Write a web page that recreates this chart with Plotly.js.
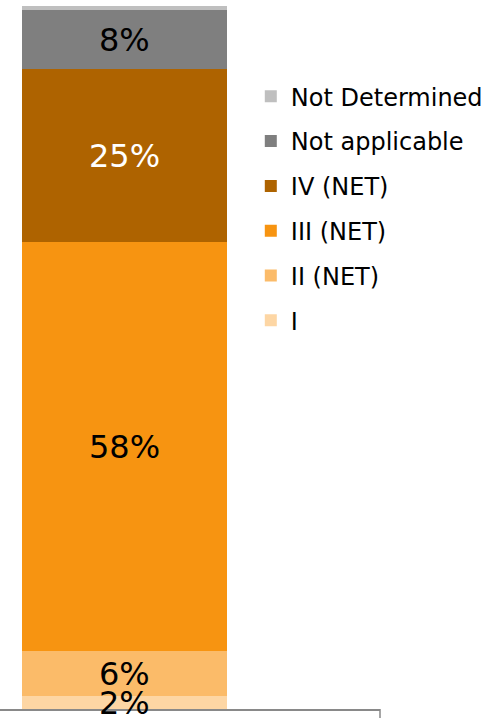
<!DOCTYPE html>
<html>
<head>
<meta charset="utf-8">
<script src="https://cdn.plot.ly/plotly-3.0.1.min.js"></script>
<style>html,body{margin:0;padding:0;background:#fff;}#chart{width:490px;height:718px;}</style>
</head>
<body>
<div id="chart"></div>
<script>
const category = ['All'];
const seriesNames = ['I', 'II (NET)', 'III (NET)', 'IV (NET)', 'Not applicable', 'Not Determined'];
const seriesValues = [1.8, 6.4, 58.2, 24.6, 8.4, 0.6];
const seriesLabels = ['2%', '6%', '58%', '25%', '8%', ''];
const seriesColors = ['#fdd6a4', '#fbbb69', '#f79411', '#ae6300', '#7f7f7f', '#bfbfbf'];
const labelColors = ['#000000', '#000000', '#000000', '#ffffff', '#000000', '#000000'];

const FONT = 'Verdana, DejaVu Sans, sans-serif';

const traces = seriesNames.map((name, i) => ({
  type: 'bar',
  name: name,
  x: [0],
  y: [seriesValues[i]],
  width: 0.6,
  marker: {color: seriesColors[i], line: {width: 0}},
  legendgroup: 'g' + i,
  legendrank: seriesNames.length - i,
  hoverinfo: 'name+y'
}));

// data labels at the middle of each stacked segment
const annotations = [];
let base = 0;
seriesValues.forEach((v, i) => {
  if (seriesLabels[i]) {
    annotations.push({
      xref: 'x', yref: 'y', x: 0, y: base + v / 2,
      text: seriesLabels[i], showarrow: false,
      xanchor: 'center', yanchor: 'middle',
      font: {family: FONT, size: 32, color: labelColors[i]}
    });
  }
  base += v;
});

const layout = {
  width: 490, height: 718,
  margin: {l: 0, r: 110, t: 6, b: 9, pad: 0},
  barmode: 'stack',
  bargap: 0,
  paper_bgcolor: '#ffffff',
  plot_bgcolor: '#ffffff',
  font: {family: FONT, color: '#000000'},
  xaxis: {
    range: [-0.364, 0.748], showgrid: false, zeroline: false,
    showticklabels: false, ticks: '',
    showline: true, linecolor: '#898989', linewidth: 1.5, fixedrange: true
  },
  yaxis: {
    range: [0, 100], visible: false, showgrid: false, zeroline: false, fixedrange: true
  },
  showlegend: true,
  legend: {
    x: 0.66, xanchor: 'left', y: 0.903, yanchor: 'top',
    traceorder: 'grouped',
    tracegroupgap: 10.6,
    font: {family: FONT, size: 24, color: '#000000'},
    bgcolor: 'rgba(0,0,0,0)', borderwidth: 0
  },
  annotations: annotations,
  shapes: [{
    type: 'line', xref: 'paper', yref: 'paper',
    x0: 1, x1: 1, y0: 0, y1: -0.013,
    line: {color: '#898989', width: 1.5}
  }]
};

Plotly.newPlot('chart', traces, layout, {displayModeBar: false, staticPlot: true});
</script>
</body>
</html>
